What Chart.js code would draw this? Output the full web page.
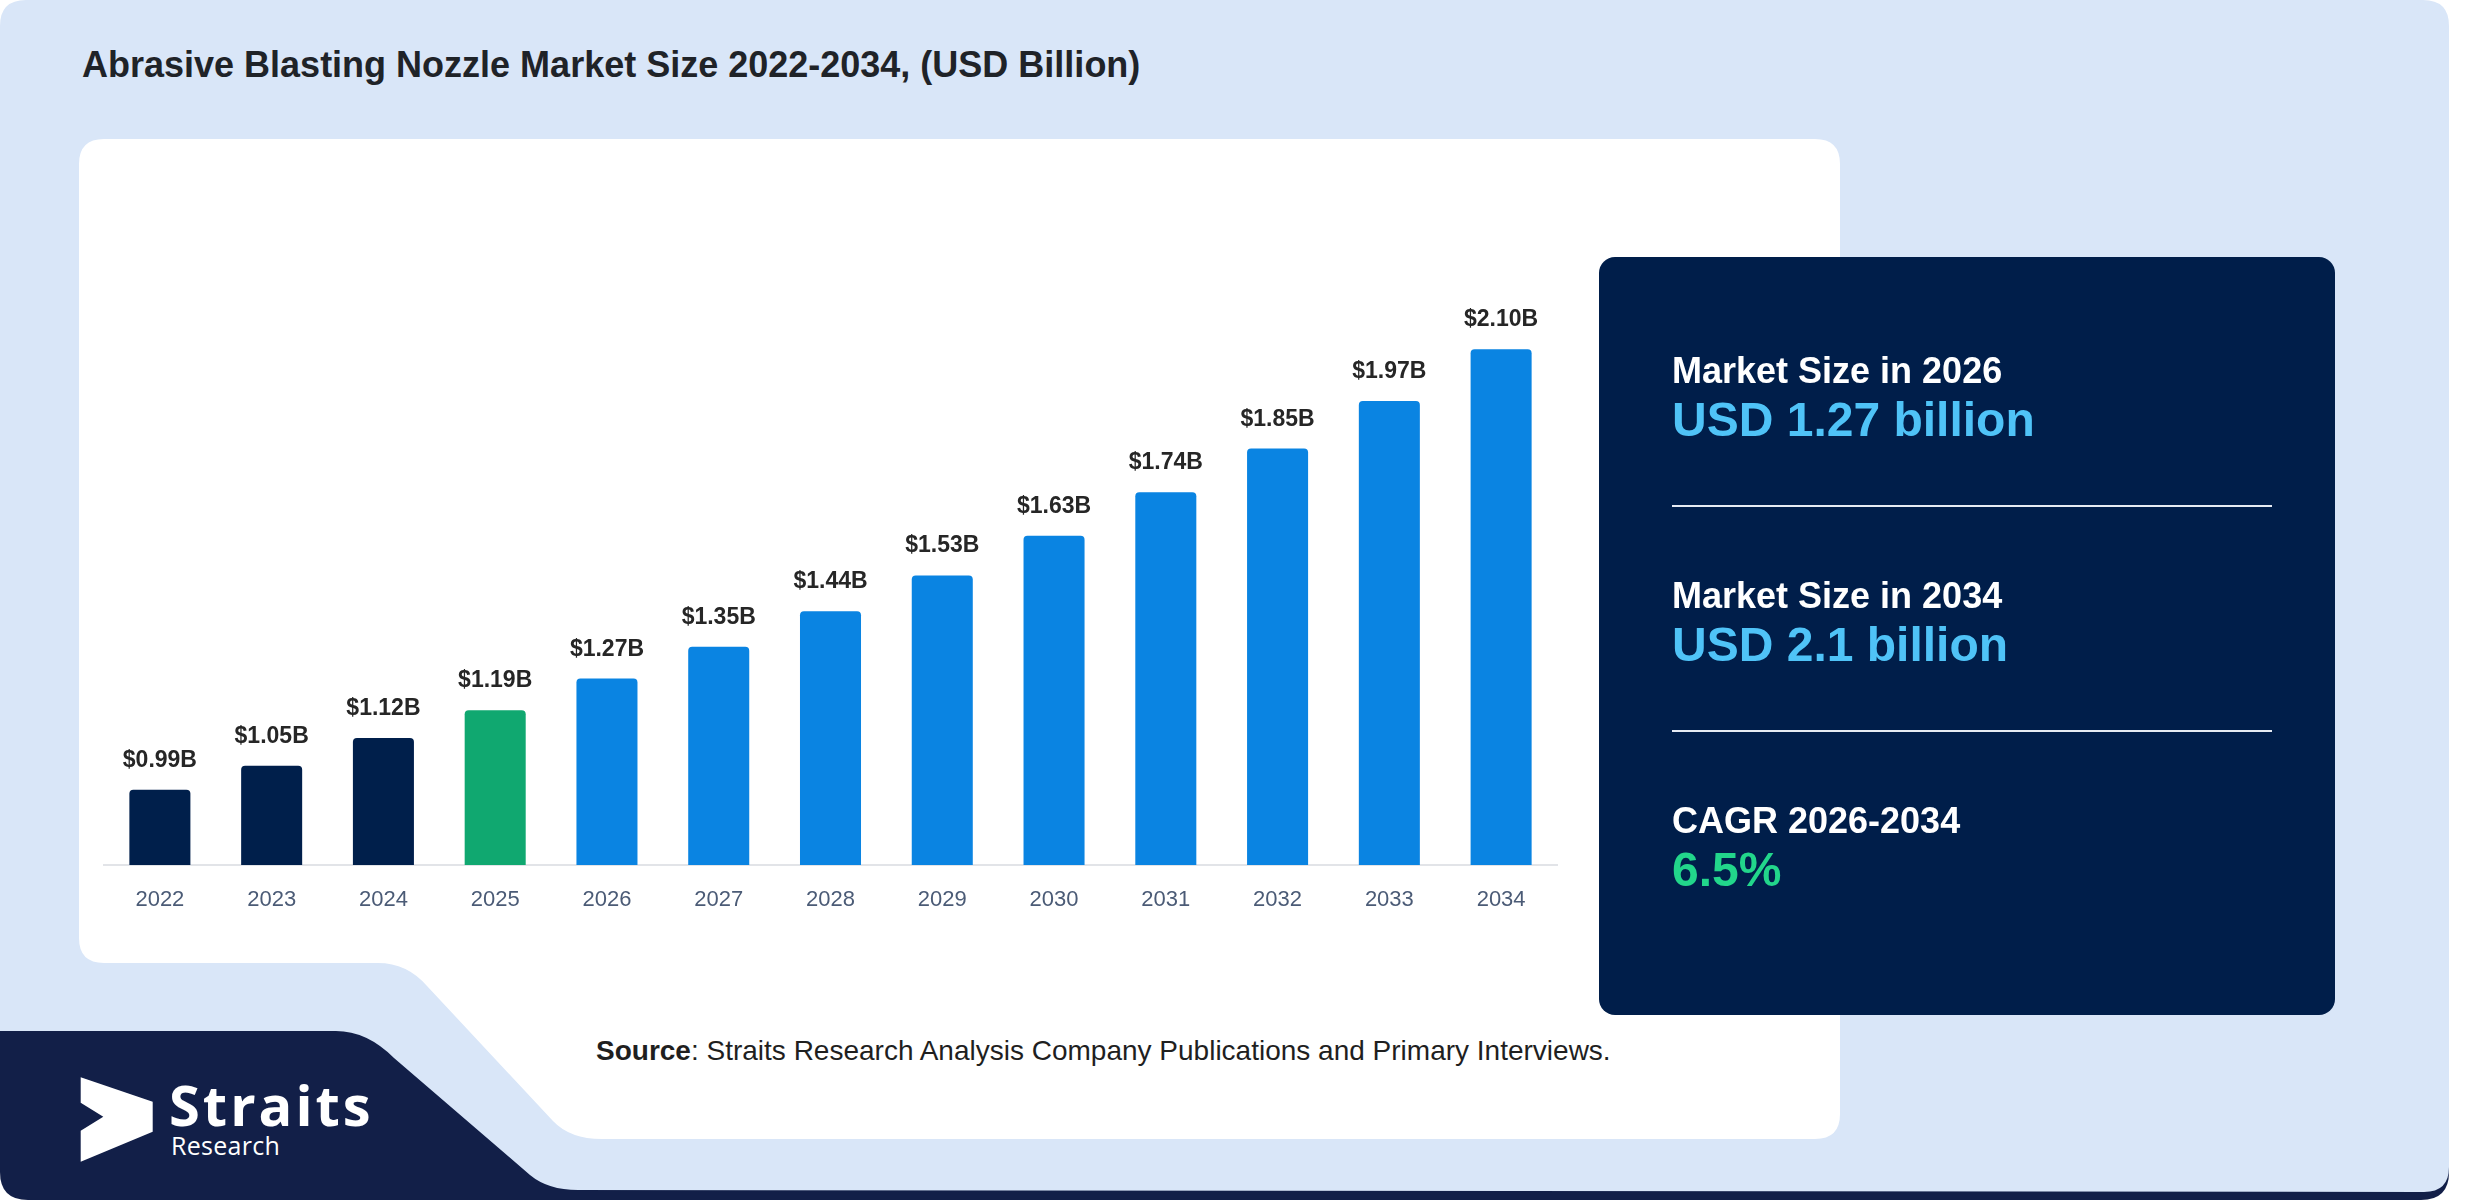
<!DOCTYPE html>
<html>
<head>
<meta charset="utf-8">
<script src="https://cdn.jsdelivr.net/npm/chart.js@4.4.1/dist/chart.umd.min.js"></script>
<style>
  html, body { margin:0; padding:0; background:#ffffff; }
  body { width:2480px; height:1200px; position:relative; overflow:hidden; font-family:"Liberation Sans", Arial, sans-serif; }
  .abs { position:absolute; white-space:nowrap; line-height:1; }
  #bg { position:absolute; left:0; top:0; }
  #chartWrap { position:absolute; left:79px; top:139px; width:1761px; height:800px; }
</style>
</head>
<body>
<script>
// ---- data ----
const years = ['2022','2023','2024','2025','2026','2027','2028','2029','2030','2031','2032','2033','2034'];
const marketValues = [0.99, 1.05, 1.12, 1.19, 1.27, 1.35, 1.44, 1.53, 1.63, 1.74, 1.85, 1.97, 2.10];
const historicYears = ['2022','2023','2024'];
const baseYear = '2025';
const titleText = 'Abrasive Blasting Nozzle Market Size 2022-2034, (USD Billion)';
const statLabels = ['Market Size in 2026', 'Market Size in 2034', 'CAGR 2026-2034'];
const statValues = ['USD 1.27 billion', 'USD 2.1 billion', '6.5%'];
</script>

<svg id="bg" width="2480" height="1200" viewBox="0 0 2480 1200">
  <!-- navy base (logo area + bottom band) -->
  <path d="M0,1000 L2449,1000 L2449,1172 Q2449,1200 2421,1200 L28,1200 Q0,1200 0,1172 Z" fill="#121f48"/>
  <!-- light blue frame -->
  <path d="M26,0 L2423,0 Q2449,0 2449,26 L2449,1167 Q2449,1192 2424,1192 L578,1190 Q548,1190 530,1175 L394,1058 Q367,1031 336,1031 L0,1031 L0,26 Q0,0 26,0 Z" fill="#d9e6f8"/>
  <!-- white chart card with notch -->
  <path d="M104,139 L1815,139 Q1840,139 1840,164 L1840,1114 Q1840,1139 1815,1139 L602,1139 Q570,1139 553,1121 L427,986 Q407,963 378,963 L104,963 Q79,963 79,938 L79,164 Q79,139 104,139 Z" fill="#ffffff"/>
  <!-- right stats panel -->
  <rect x="1599" y="257" width="736" height="758" rx="16" ry="16" fill="#001e4a"/>
  <line x1="1672" y1="506" x2="2272" y2="506" stroke="#e6ebf3" stroke-width="2"/>
  <line x1="1672" y1="731" x2="2272" y2="731" stroke="#e6ebf3" stroke-width="2"/>
  <!-- logo icon -->
  <polygon points="80.7,1077.3 152.7,1101.7 152.7,1131.7 80.7,1161.7 80.7,1130.7 103.3,1116.7 80.7,1102.7" fill="#ffffff"/>
</svg>

<div id="title" class="abs" style="left:82px; top:47px; font-size:36px; font-weight:bold; color:#1f2328;"></div>

<div id="chartWrap"><canvas id="c" width="1761" height="800"></canvas></div>

<div id="s0l" class="abs" style="left:1672px; top:353px; font-size:36px; font-weight:bold; color:#ffffff;"></div>
<div id="s0v" class="abs" style="left:1672px; top:396px; font-size:48px; font-weight:bold; color:#4fc3f7;"></div>
<div id="s1l" class="abs" style="left:1672px; top:578px; font-size:36px; font-weight:bold; color:#ffffff;"></div>
<div id="s1v" class="abs" style="left:1672px; top:621px; font-size:48px; font-weight:bold; color:#4fc3f7;"></div>
<div id="s2l" class="abs" style="left:1672px; top:803px; font-size:36px; font-weight:bold; color:#ffffff;"></div>
<div id="s2v" class="abs" style="left:1672px; top:846px; font-size:48px; font-weight:bold; color:#22d68b;"></div>

<div class="abs" style="left:596px; top:1037px; font-size:28px; color:#1f1f1f;"><b>Source</b>: Straits Research Analysis Company Publications and Primary Interviews.</div>

<div class="abs" style="left:169px; top:1076px; font-size:56px; font-weight:700; letter-spacing:3px; color:#ffffff; font-family:'Open Sans', sans-serif;">Straits</div>
<div class="abs" style="left:171px; top:1133px; font-size:25px; font-weight:400; letter-spacing:0.3px; color:#ffffff; font-family:'Open Sans', sans-serif;">Research</div>

<script>
document.getElementById('title').textContent = titleText;
['s0','s1','s2'].forEach((id, i) => {
  document.getElementById(id + 'l').textContent = statLabels[i];
  document.getElementById(id + 'v').textContent = statValues[i];
});

const barColors = years.map(y => historicYears.includes(y) ? '#001f4b' : (y === baseYear ? '#10a870' : '#0a84e2'));

const valueLabels = {
  id: 'valueLabels',
  afterDatasetsDraw(chart) {
    const ctx = chart.ctx;
    const meta = chart.getDatasetMeta(0);
    ctx.save();
    ctx.font = 'bold 23px "Liberation Sans", Arial, sans-serif';
    ctx.fillStyle = '#262626';
    ctx.textAlign = 'center';
    ctx.textBaseline = 'alphabetic';
    meta.data.forEach((bar, i) => {
      const v = chart.data.datasets[0].data[i];
      ctx.fillText('$' + v.toFixed(2) + 'B', bar.x, bar.y - 23);
    });
    ctx.restore();
  }
};

new Chart(document.getElementById('c'), {
  type: 'bar',
  data: {
    labels: years,
    datasets: [{
      data: marketValues,
      backgroundColor: barColors,
      borderRadius: { topLeft: 4, topRight: 4, bottomLeft: 0, bottomRight: 0 },
      borderSkipped: 'bottom',
      barPercentage: 0.546,
      categoryPercentage: 1.0
    }]
  },
  options: {
    responsive: false,
    devicePixelRatio: 1,
    animation: false,
    layout: { padding: { left: 25, right: 283, top: 131, bottom: 0 } },
    plugins: { legend: { display: false }, tooltip: { enabled: false } },
    scales: {
      x: {
        grid: { display: false, drawTicks: false },
        border: { display: true, color: '#e2e4e8', width: 2 },
        ticks: {
          color: '#4b5b76',
          padding: 22,
          font: { family: '"Liberation Sans", Arial, sans-serif', size: 22 }
        },
        afterFit(scale) { scale.height = 74; }
      },
      y: {
        display: false,
        min: 0.8,
        max: 2.3
      }
    }
  },
  plugins: [valueLabels]
});
</script>
</body>
</html>
